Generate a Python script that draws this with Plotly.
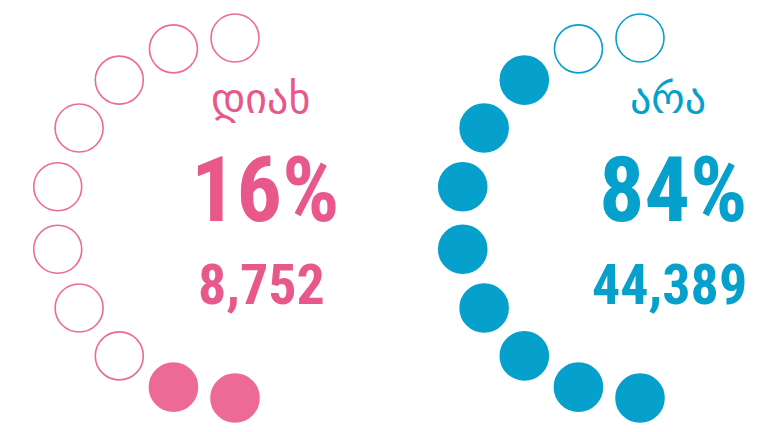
import math
import plotly.graph_objects as go

# ---- data ----
categories = ["დიახ", "არა"]
percents = [16, 84]
counts = [8752, 44389]
dots_total = 10

colors_dot = ["#EE6A96", "#05A0CB"]
colors_text = ["#E8588A", "#05A0CB"]

W, H = 768, 432
centers_x = [235, 640]
center_y = 218
R = 180
text_cx = [263, 671]

fig = go.Figure()

for i, cat in enumerate(categories):
    n_filled = round(percents[i] / 100 * dots_total)
    xs, ys, fills = [], [], []
    for k in range(dots_total):
        ang = math.radians(90 - 20 * k)  # from top (90) to bottom (-90)
        xs.append(centers_x[i] - R * math.cos(ang))
        ys.append(center_y - R * math.sin(ang))
        filled = k >= dots_total - n_filled
        fills.append(colors_dot[i] if filled else "rgba(255,255,255,0)")
    fig.add_trace(go.Scatter(
        x=xs, y=ys, mode="markers", hoverinfo="skip", showlegend=False,
        marker=dict(size=48, color=fills,
                    line=dict(color=colors_dot[i], width=1.6)),
    ))
    fig.add_annotation(x=text_cx[i] - 3, y=98, text=cat, showarrow=False,
                       xanchor="center", yanchor="middle",
                       font=dict(family="DejaVu Sans", size=42, color=colors_text[i]))
    fig.add_annotation(x=text_cx[i] + 2, y=190, text=f"<b>{percents[i]}%</b>", showarrow=False,
                       xanchor="center", yanchor="middle",
                       font=dict(family="Roboto Condensed", size=90, color=colors_text[i]))
    fig.add_annotation(x=text_cx[i] - 2, y=285, text=f"<b>{counts[i]:,}</b>", showarrow=False,
                       xanchor="center", yanchor="middle",
                       font=dict(family="Roboto Condensed", size=56, color=colors_text[i]))

fig.update_xaxes(range=[0, W], visible=False, fixedrange=True)
fig.update_yaxes(range=[H, 0], visible=False, fixedrange=True)
fig.update_layout(width=W, height=H, margin=dict(l=0, r=0, t=0, b=0),
                  paper_bgcolor="white", plot_bgcolor="white")

fig.write_html("out.html", config={"displayModeBar": False},
               post_script="document.body.style.margin='0';")
